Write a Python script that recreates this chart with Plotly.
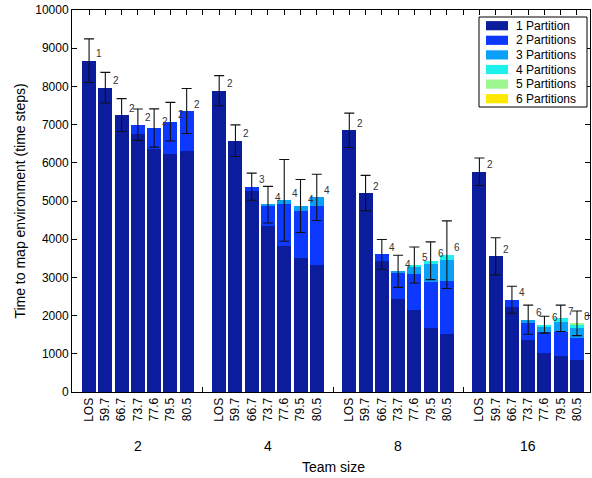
import plotly.graph_objects as go

groups = ["2", "4", "8", "16"]
bar_labels = ["LOS", "59.7", "66.7", "73.7", "77.6", "79.5", "80.5"]

# values per group (7 bars each), stacked partitions
p1 = [8673, 7966, 7251, 6754, 6353, 6230, 6309,
      7888, 6579, 5262, 4346, 3830, 3500, 3316,
      6850, 5209, 3429, 2435, 2147, 1667, 1510,
      5767, 3552, 2233, 1361, 1021, 934, 838]
p2 = [0, 0, 0, 244, 558, 847, 1047,
      0, 0, 113, 530, 1091, 1238, 1553,
      0, 0, 175, 671, 942, 1221, 1396,
      0, 0, 183, 454, 541, 637, 584]
p3 = [0, 0, 0, 0, 0, 0, 0,
      0, 0, 0, 28, 97, 131, 227,
      0, 0, 0, 53, 200, 463, 549,
      0, 0, 0, 78, 165, 261, 261]
p4 = [0, 0, 0, 0, 0, 0, 0,
      0, 0, 0, 0, 0, 0, 0,
      0, 0, 0, 0, 36, 86, 139,
      0, 0, 0, 0, 35, 97, 80]
p5 = [0, 0, 0, 0, 0, 0, 0,
      0, 0, 0, 0, 0, 0, 0,
      0, 0, 0, 0, 0, 0, 0,
      0, 0, 0, 0, 0, 0, 35]
p6 = [0] * 28
err = [570, 400, 430, 410, 500, 506, 590,
       393, 414, 354, 480, 1070, 694, 606,
       450, 462, 390, 420, 470, 494, 886,
       360, 485, 353, 380, 222, 345, 323]
npart = ["1", "2", "2", "2", "2", "2", "2",
         "2", "2", "3", "4", "4", "4", "4",
         "2", "2", "4", "4", "5", "6", "6",
         "2", "2", "4", "6", "6", "7", "8"]
yticks = [0, 1000, 2000, 3000, 4000, 5000, 6000, 7000, 8000, 9000, 10000]

series = [("1 Partition", p1, "#0b1c9c"),
          ("2 Partitions", p2, "#0d38fd"),
          ("3 Partitions", p3, "#0aa0f8"),
          ("4 Partitions", p4, "#1ef0ec"),
          ("5 Partitions", p5, "#9cf790"),
          ("6 Partitions", p6, "#ffe800")]

xs = [g * 8 + i for g in range(len(groups)) for i in range(len(bar_labels))]
totals = [sum(s[1][k] for s in series) for k in range(len(xs))]

fig = go.Figure()
for name, vals, col in series:
    fig.add_trace(go.Bar(x=xs, y=vals, name=name, marker=dict(color=col, line=dict(width=0)),
                         width=0.86, showlegend=False))

fig.add_trace(go.Scatter(x=xs, y=totals, mode="markers", marker=dict(opacity=0, size=1),
                         showlegend=False, hoverinfo="skip",
                         error_y=dict(type="data", array=err, visible=True, color="#111",
                                      thickness=1.1, width=5)))

for k, x in enumerate(xs):
    fig.add_annotation(x=x + 0.33, y=totals[k], text=npart[k], showarrow=False,
                       xanchor="left", yanchor="middle", yshift=7,
                       font=dict(size=10, color="#333"))

tickvals = list(range(32))
ticktext = []
for g in range(4):
    ticktext += bar_labels + [""]

for g, lab in enumerate(groups):
    fig.add_annotation(x=g * 8 + 3, y=0, yref="paper", text=lab, showarrow=False,
                       yanchor="middle", yshift=-54, font=dict(size=14, color="#000"))
fig.add_annotation(x=15, y=0, yref="paper", text="Team size", showarrow=False,
                   yanchor="middle", yshift=-75, font=dict(size=14, color="#000"))

# legend box drawn in paper coordinates (plot area: 518 x 382 px)
PW, PH = 518.0, 382.0
def px(xp):
    return xp / PW
def py(yp):
    return 1 - yp / PH

fig.add_shape(type="rect", xref="paper", yref="paper",
              x0=px(407), x1=px(515), y0=py(97), y1=py(7),
              line=dict(color="#000", width=1), fillcolor="white", layer="above")
for i, (name, vals, col) in enumerate(series):
    cy = 15.7 + i * 14.6
    fig.add_shape(type="rect", xref="paper", yref="paper",
                  x0=px(414), x1=px(436), y0=py(cy + 4.6), y1=py(cy - 4.6),
                  line=dict(width=0), fillcolor=col, layer="above")
    fig.add_annotation(xref="paper", yref="paper", x=px(442), y=py(cy), text=name,
                       showarrow=False, xanchor="left", yanchor="middle",
                       font=dict(size=12, color="#000"))

fig.update_layout(
    width=592, height=478,
    margin=dict(l=72, r=2, t=10, b=86),
    barmode="stack", bargap=0,
    plot_bgcolor="white", paper_bgcolor="white",
    font=dict(family="Liberation Sans, Arial, sans-serif", size=12, color="#000"),
    showlegend=False,
    xaxis=dict(range=[-1.05, 30.8], tickmode="array", tickvals=tickvals, ticktext=ticktext,
               tickangle=-90, ticks="inside", ticklen=5, tickcolor="#000", mirror="ticks",
               showline=True, linecolor="#000", linewidth=1, showgrid=False, zeroline=False,
               tickfont=dict(size=12), layer="below traces", automargin=False),
    yaxis=dict(range=[0, 10000], tickmode="array", tickvals=yticks,
               ticktext=[str(v) for v in yticks],
               ticks="inside", ticklen=5, tickcolor="#000", mirror="ticks",
               showline=True, linecolor="#000", linewidth=1, showgrid=False, zeroline=False,
               tickfont=dict(size=12), automargin=False,
               title=dict(text="Time to map environment (time steps)", font=dict(size=14), standoff=6)),
)

fig.write_html("out.html", config={"displayModeBar": False},
               post_script="document.body.style.margin='0px';")
